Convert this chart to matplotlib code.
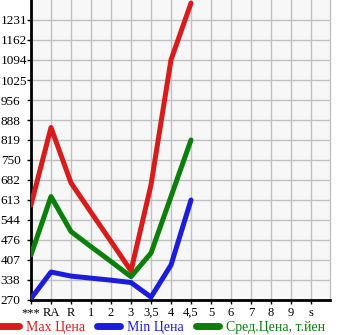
import matplotlib
matplotlib.use("Agg")
import matplotlib.pyplot as plt
import numpy as np

# categories on the x axis
categories = ["***", "RA", "R", "1", "2", "3", "3,5", "4", "4,5", "5", "6", "7", "8", "9", "s"]
y_labels = ["270", "338", "407", "476", "544", "613", "682", "750", "819",
            "888", "956", "1025", "1094", "1162", "1231"]

# prices (first 9 categories have data)
max_price = [596, 862, 672, 571, 471, 370, 665, 1094, 1289]
min_price = [275, 366, 352, 345, 338, 330, 280, 390, 613]
avg_price = [425, 625, 505, 453, 402, 350, 431, 625, 819]

y_min = 270
y_step = (1231 - 270) / 14

fig = plt.figure(figsize=(3.45, 3.35), dpi=100)
ax = fig.add_axes([31 / 345, 35 / 335, 299 / 345, 300 / 335])
ax.set_facecolor("#f7f7f7")

x = np.arange(len(max_price))
lw = 3.6
ax.plot(x, max_price, color="#d81c1c", lw=lw, solid_capstyle="round", solid_joinstyle="round", label="Max Цена", zorder=3)
ax.plot(x, min_price, color="#1c1cdd", lw=lw, solid_capstyle="round", solid_joinstyle="round", label="Min Цена", zorder=3)
ax.plot(x, avg_price, color="#0a800a", lw=lw, solid_capstyle="round", solid_joinstyle="round", label="Сред.Цена, т.йен", zorder=3)

ax.set_xlim(0, 14.95)
ax.set_ylim(y_min, y_min + 15 * y_step)
ax.set_xticks(range(len(categories)))
ax.set_xticklabels(categories)
yt = [y_min + i * y_step for i in range(len(y_labels))]
ax.set_yticks(yt)
ax.set_yticklabels(y_labels)

ax.grid(True, color="#c0c0c0", lw=1.0, zorder=1)
ax.set_axisbelow(True)
ax.spines["top"].set_visible(False)
ax.spines["right"].set_color("#c0c0c0")
ax.spines["right"].set_linewidth(1.0)
ax.spines["left"].set_linewidth(2)
ax.spines["bottom"].set_linewidth(2)

font = "Liberation Serif"
ax.tick_params(axis="y", length=3, width=1, pad=18.8, labelsize=9.5)
ax.tick_params(axis="x", length=3, width=1, pad=2, labelsize=9)
for t in ax.get_yticklabels():
    t.set_horizontalalignment("left")
    t.set_fontfamily(font)
for t in ax.get_xticklabels():
    t.set_fontfamily(font)

leg = fig.legend(loc="center left", bbox_to_anchor=(-0.012, 8 / 335), ncol=3, frameon=False,
                 handlelength=1.66, handletextpad=0.5, columnspacing=0.86,
                 borderpad=0, borderaxespad=0,
                 labelcolor="linecolor", prop={"family": font, "size": 10})
for h in leg.legend_handles:
    h.set_linewidth(5)
    h.set_solid_capstyle("round")

fig.savefig("out.png", dpi=100)
